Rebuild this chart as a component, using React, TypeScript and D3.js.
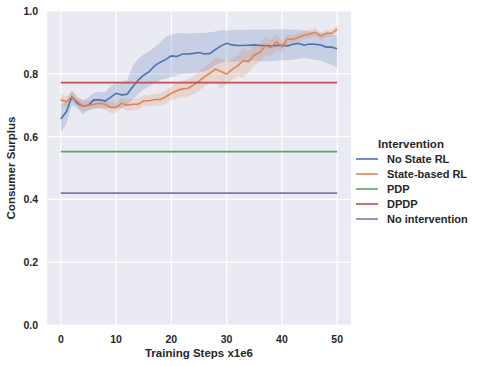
import React from 'react';
import * as d3 from 'd3';

// training steps (x1e6)
const steps = d3.range(0, 51);

const noStateMean = [
  0.656, 0.679, 0.727, 0.706, 0.697, 0.700, 0.717, 0.717, 0.713, 0.725,
  0.738, 0.733, 0.735, 0.759, 0.780, 0.796, 0.807, 0.826, 0.837, 0.846,
  0.857, 0.855, 0.863, 0.863, 0.865, 0.868, 0.863, 0.865, 0.878, 0.889,
  0.897, 0.892, 0.890, 0.890, 0.891, 0.892, 0.890, 0.890, 0.888, 0.890,
  0.891, 0.889, 0.894, 0.897, 0.891, 0.895, 0.894, 0.892, 0.885, 0.885,
  0.880,
];
const noStateLow = [
  0.615, 0.640, 0.700, 0.690, 0.670, 0.685, 0.690, 0.690, 0.688, 0.692,
  0.695, 0.690, 0.700, 0.720, 0.735, 0.750, 0.760, 0.770, 0.780, 0.785,
  0.790, 0.795, 0.800, 0.800, 0.802, 0.805, 0.808, 0.815, 0.828, 0.835,
  0.840, 0.838, 0.838, 0.840, 0.840, 0.842, 0.840, 0.840, 0.840, 0.842,
  0.843, 0.843, 0.845, 0.848, 0.850, 0.848, 0.845, 0.842, 0.835, 0.828,
  0.819,
];
const noStateHigh = [
  0.700, 0.712, 0.748, 0.725, 0.715, 0.725, 0.740, 0.742, 0.742, 0.760,
  0.775, 0.772, 0.780, 0.825, 0.848, 0.862, 0.872, 0.885, 0.900, 0.918,
  0.925, 0.929, 0.930, 0.928, 0.930, 0.930, 0.931, 0.932, 0.935, 0.938,
  0.938, 0.939, 0.940, 0.940, 0.940, 0.941, 0.940, 0.941, 0.940, 0.941,
  0.942, 0.941, 0.940, 0.941, 0.938, 0.935, 0.932, 0.930, 0.928, 0.925,
  0.923,
];

const stateMean = [
  0.717, 0.711, 0.727, 0.711, 0.697, 0.700, 0.703, 0.706, 0.703, 0.693,
  0.693, 0.706, 0.700, 0.703, 0.703, 0.714, 0.714, 0.718, 0.718, 0.727,
  0.738, 0.746, 0.752, 0.754, 0.764, 0.777, 0.791, 0.802, 0.815, 0.807,
  0.799, 0.814, 0.825, 0.842, 0.839, 0.860, 0.868, 0.889, 0.884, 0.902,
  0.886, 0.910, 0.910, 0.916, 0.923, 0.926, 0.933, 0.920, 0.929, 0.929,
  0.942,
];
const stateLow = [
  0.700, 0.695, 0.710, 0.695, 0.680, 0.683, 0.688, 0.690, 0.686, 0.675,
  0.676, 0.690, 0.682, 0.685, 0.686, 0.696, 0.697, 0.700, 0.698, 0.706,
  0.715, 0.722, 0.726, 0.727, 0.735, 0.746, 0.760, 0.770, 0.775, 0.753,
  0.768, 0.782, 0.792, 0.789, 0.805, 0.826, 0.838, 0.858, 0.858, 0.876,
  0.870, 0.895, 0.897, 0.903, 0.910, 0.913, 0.920, 0.908, 0.917, 0.918,
  0.930,
];
const stateHigh = [
  0.733, 0.728, 0.745, 0.728, 0.714, 0.716, 0.719, 0.722, 0.720, 0.710,
  0.710, 0.722, 0.718, 0.721, 0.721, 0.732, 0.732, 0.736, 0.738, 0.748,
  0.760, 0.770, 0.778, 0.782, 0.793, 0.808, 0.822, 0.835, 0.850, 0.850,
  0.838, 0.848, 0.860, 0.880, 0.873, 0.892, 0.898, 0.918, 0.910, 0.925,
  0.905, 0.925, 0.923, 0.929, 0.936, 0.939, 0.946, 0.932, 0.941, 0.940,
  0.954,
];

const pdpValue = 0.552;
const dpdpValue = 0.772;
const noInterventionValue = 0.42;

const legendLabels = ['No State RL', 'State-based RL', 'PDP', 'DPDP', 'No intervention'];
const palette = ['#4c72b0', '#dd8452', '#55a868', '#c44e52', '#8172b3'];

const xTicks = [0, 10, 20, 30, 40, 50];
const yTicks = [0, 0.2, 0.4, 0.6, 0.8, 1.0];

const W = 477;
const H = 366;
const left = 47;
const right = 351;
const top = 11;
const bottom = 325;
const font = '"Liberation Sans", Arial, sans-serif';

export default function App() {
  const x = d3.scaleLinear().domain([-2.5, 52.5]).range([left, right]);
  const y = d3.scaleLinear().domain([0, 1]).range([bottom, top]);

  const line = d3.line<number>().x((_, i) => x(steps[i])).y((d) => y(d));
  const band = (lo: number[], hi: number[]) =>
    d3.area<number>()
      .x((_, i) => x(steps[i]))
      .y0((_, i) => y(lo[i]))
      .y1((_, i) => y(hi[i]))(lo) || '';

  const flat = (v: number) => steps.map(() => v);

  return (
    <svg width={W} height={H} style={{ position: 'absolute', left: 0, top: 0, background: '#fff' }}
      fontFamily={font} fontWeight="bold">
      <rect x={left} y={top} width={right - left} height={bottom - top} fill="#eaeaf2" />
      {xTicks.map((t) => (
        <line key={'gx' + t} x1={x(t)} x2={x(t)} y1={top} y2={bottom} stroke="#fff" strokeWidth={1.2} />
      ))}
      {yTicks.map((t) => (
        <line key={'gy' + t} x1={left} x2={right} y1={y(t)} y2={y(t)} stroke="#fff" strokeWidth={1.2} />
      ))}

      <path d={band(noStateLow, noStateHigh)} fill={palette[0]} fillOpacity={0.22} />
      <path d={band(stateLow, stateHigh)} fill={palette[1]} fillOpacity={0.22} />

      <path d={line(noStateMean) || ''} fill="none" stroke={palette[0]} strokeWidth={1.6} />
      <path d={line(stateMean) || ''} fill="none" stroke={palette[1]} strokeWidth={1.6} />
      <path d={line(flat(pdpValue)) || ''} fill="none" stroke={palette[2]} strokeWidth={1.6} />
      <path d={line(flat(dpdpValue)) || ''} fill="none" stroke={palette[3]} strokeWidth={1.6} />
      <path d={line(flat(noInterventionValue)) || ''} fill="none" stroke={palette[4]} strokeWidth={1.6} />

      {xTicks.map((t) => (
        <text key={'tx' + t} x={x(t)} y={bottom + 18} textAnchor="middle" fontSize={10.5} fill="#262626">{t}</text>
      ))}
      {yTicks.map((t) => (
        <text key={'ty' + t} x={left - 9} y={y(t) + 4} textAnchor="end" fontSize={10.5} fill="#262626">{t.toFixed(1)}</text>
      ))}

      <text x={(left + right) / 2} y={357} textAnchor="middle" fontSize={11.5} fill="#262626">Training Steps x1e6</text>
      <text transform={`translate(15, ${(top + bottom) / 2}) rotate(-90)`} textAnchor="middle" fontSize={11.5} fill="#262626">Consumer Surplus</text>

      <text x={411} y={148} textAnchor="middle" fontSize={11.5} fill="#262626">Intervention</text>
      {legendLabels.map((lab, i) => (
        <g key={lab} transform={`translate(0, ${159 + i * 15})`}>
          <line x1={356} x2={378} y1={0} y2={0} stroke={palette[i]} strokeWidth={1.6} />
          <text x={387} y={4} fontSize={11} fill="#262626">{lab}</text>
        </g>
      ))}
    </svg>
  );
}
